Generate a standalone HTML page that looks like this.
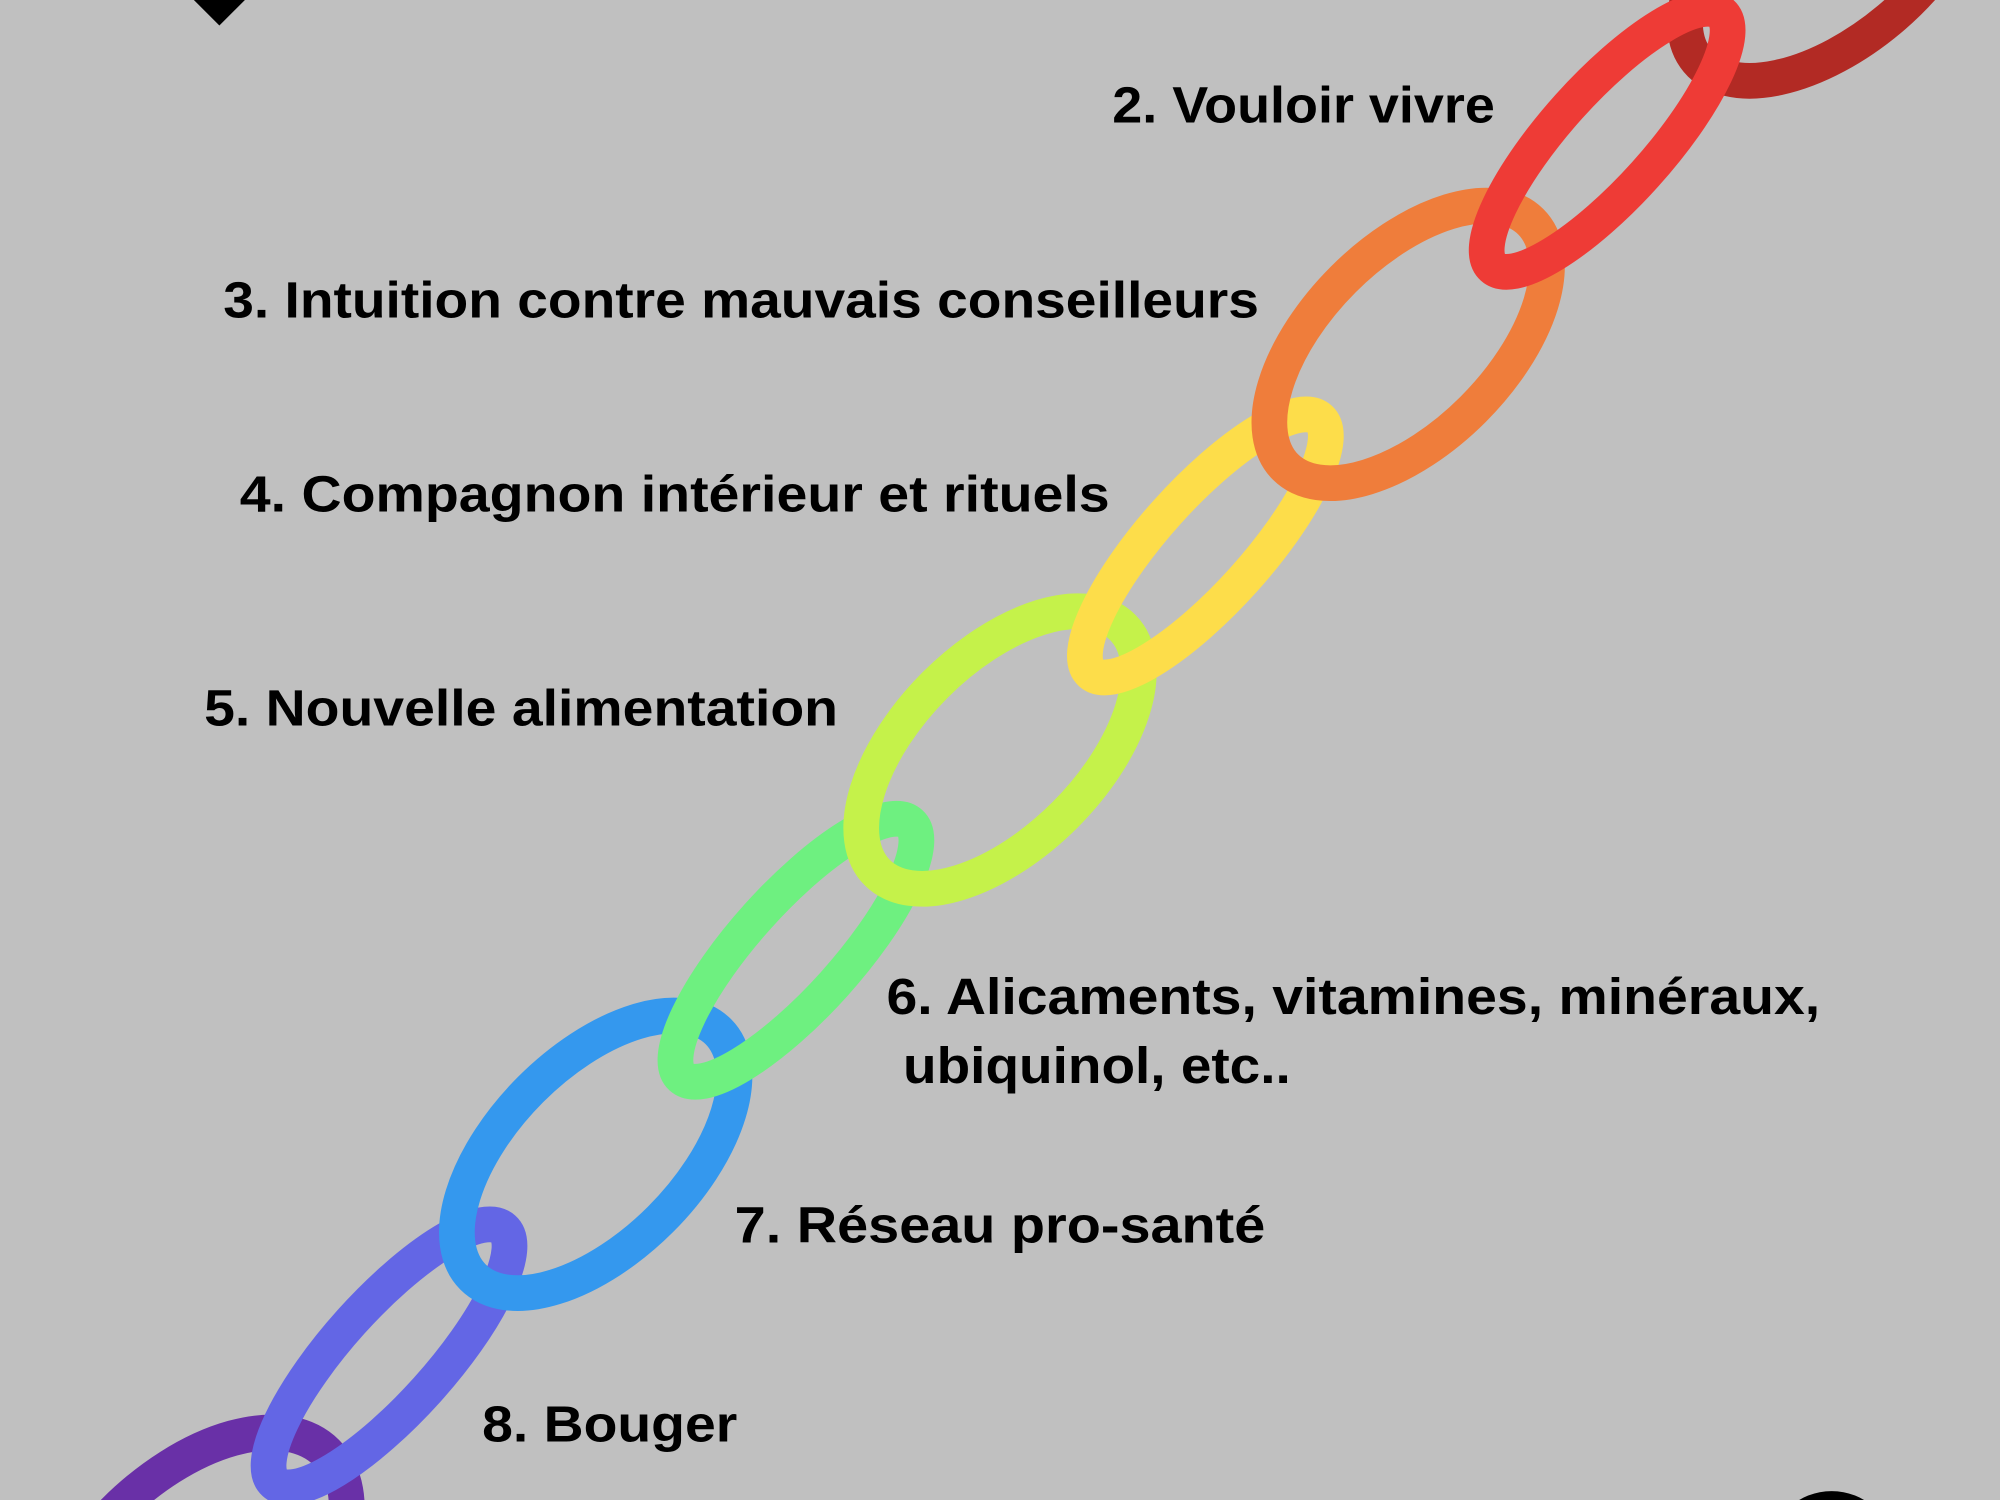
<!DOCTYPE html>
<html><head><meta charset="utf-8"><style>
html,body{margin:0;padding:0;background:#c0c0c0;width:2000px;height:1500px;overflow:hidden;}
svg{display:block;overflow:hidden;}
text{font-family:"Liberation Sans",Arial,sans-serif;font-weight:bold;font-size:40px;fill:#000;}
</style></head><body>
<svg width="2000" height="1500" viewBox="0 0 1568 1176" xmlns="http://www.w3.org/2000/svg">
<rect width="1568" height="1176" fill="#c0c0c0"/>
<polygon points="152,0 192,0 172,20" fill="#000"/>
<ellipse cx="1436" cy="1215" rx="48" ry="46" fill="#000"/>
<g fill="none" stroke-width="28">
<ellipse cx="150" cy="1245" rx="150" ry="85" transform="rotate(-45 150 1245)" stroke="#6930a7"/>
<ellipse cx="305" cy="1063" rx="134" ry="40" transform="rotate(-48 305 1063)" stroke="#6366e5"/>
<ellipse cx="467" cy="905" rx="136" ry="72" transform="rotate(-45 467 905)" stroke="#3498ee"/>
<ellipse cx="624" cy="745" rx="134" ry="40" transform="rotate(-48 624 745)" stroke="#6ef080"/>
<ellipse cx="784" cy="588" rx="136" ry="72" transform="rotate(-45 784 588)" stroke="#c5f24a"/>
<ellipse cx="945" cy="428" rx="134" ry="40" transform="rotate(-48 945 428)" stroke="#fddd4a"/>
<ellipse cx="1104" cy="270" rx="136" ry="72" transform="rotate(-45 1104 270)" stroke="#ef7d3b"/>
<ellipse cx="1435" cy="-40" rx="136" ry="72" transform="rotate(-40 1435 -40)" stroke="#b22a24"/>
<ellipse cx="1260" cy="110" rx="134" ry="40" transform="rotate(-48 1260 110)" stroke="#ee3b36"/>
</g>
<text x="872" y="96" textLength="300" lengthAdjust="spacingAndGlyphs">2. Vouloir vivre</text>
<text x="175" y="249" textLength="812" lengthAdjust="spacingAndGlyphs">3. Intuition contre mauvais conseilleurs</text>
<text x="188" y="401" textLength="682" lengthAdjust="spacingAndGlyphs">4. Compagnon intérieur et rituels</text>
<text x="160" y="569" textLength="497" lengthAdjust="spacingAndGlyphs">5. Nouvelle alimentation</text>
<text x="695" y="795" textLength="732" lengthAdjust="spacingAndGlyphs">6. Alicaments, vitamines, minéraux,</text>
<text x="708" y="849" textLength="304" lengthAdjust="spacingAndGlyphs">ubiquinol, etc..</text>
<text x="576" y="974" textLength="416" lengthAdjust="spacingAndGlyphs">7. Réseau pro-santé</text>
<text x="378" y="1130" textLength="200" lengthAdjust="spacingAndGlyphs">8. Bouger</text>
</svg>
</body></html>
